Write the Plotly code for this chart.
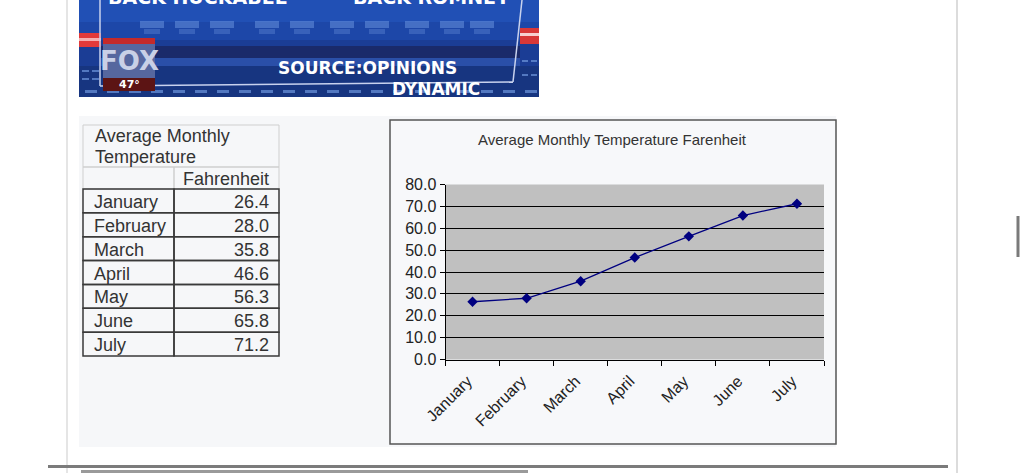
import plotly.graph_objects as go

W, H = 1024, 473

# ---------------- data ----------------
months = ["January", "February", "March", "April", "May", "June", "July"]
fahrenheit = [26.4, 28.0, 35.8, 46.6, 56.3, 65.8, 71.2]
y_ticks = [0, 10, 20, 30, 40, 50, 60, 70, 80]
chart_title = "Average Monthly Temperature Farenheit"
table_title = ["Average Monthly", "Temperature"]
table_header = "Fahrenheit"


def px(x):
    return x / W


def py(y):
    return 1 - y / H


shapes = []
annotations = []


def rect(x0, y0, x1, y1, fill=None, line=None, lw=0, layer="below"):
    shapes.append(dict(type="rect", xref="paper", yref="paper",
                       x0=px(x0), x1=px(x1), y0=py(y1), y1=py(y0),
                       fillcolor=fill if fill else "rgba(0,0,0,0)",
                       line=dict(color=line if line else "rgba(0,0,0,0)", width=lw),
                       layer=layer))


def seg(x0, y0, x1, y1, color, lw, layer="below"):
    shapes.append(dict(type="line", xref="paper", yref="paper",
                       x0=px(x0), x1=px(x1), y0=py(y0), y1=py(y1),
                       line=dict(color=color, width=lw), layer=layer))


def text(x, y, s, size, color, family="Liberation Sans", xanchor="left",
         yanchor="middle", bold=False):
    if bold:
        s = "<b>" + s + "</b>"
    annotations.append(dict(xref="paper", yref="paper", x=px(x), y=py(y),
                            text=s, showarrow=False, xanchor=xanchor,
                            yanchor=yanchor,
                            font=dict(size=size, color=color, family=family)))


# ---------------- page frame ----------------
seg(67, 0, 67, 473, "#dcdcdc", 1.5)
seg(957, 0, 957, 473, "#dcdcdc", 2)
rect(1016.5, 216, 1019.5, 257, fill="#7a7a7a")

# ---------------- TV image (drawn) ----------------
rect(79, 0, 539, 97, fill="#1b3d95")
rect(79, 0, 539, 22, fill="#2150b5")
rect(79, 22, 539, 40, fill="#1d47a8")
rect(101, 46, 520, 58, fill="#1a2a6a")
rect(101, 58, 520, 66, fill="#2a4fa8")
rect(79, 66, 539, 97, fill="#173580")
for bx in [140, 175, 210, 255, 290, 330, 365, 405, 440, 470]:
    rect(bx, 21, bx + 24, 28, fill="rgba(120,160,230,0.45)")
    rect(bx + 4, 29, bx + 20, 34, fill="rgba(120,160,230,0.30)")
rect(79, 33, 101, 47, fill="#e23a3a")
rect(79, 38, 101, 41, fill="#f5b0b0")
rect(520, 28, 539, 44, fill="#d83838")
rect(520, 33, 539, 36, fill="#f7d0d0")
for bx in range(85, 539, 22):
    rect(bx, 90, bx + 12, 93, fill="rgba(110,150,220,0.7)")
for bx in range(82, 100, 10):
    rect(bx, 70, bx + 7, 72, fill="rgba(110,150,220,0.7)")
    rect(bx, 78, bx + 7, 80, fill="rgba(110,150,220,0.7)")
for bx in range(522, 539, 9):
    rect(bx, 60, bx + 6, 62, fill="rgba(110,150,220,0.7)")
    rect(bx, 74, bx + 6, 76, fill="rgba(110,150,220,0.7)")
seg(100, 0, 100, 86, "#c8d2ee", 1.5)
seg(100, 86, 513, 82, "#c8d2ee", 1.5)
seg(522, 0, 513, 82, "#c8d2ee", 1.5)
rect(103, 38, 155, 44, fill="#c42a2a")
rect(103, 44, 155, 78, fill="#56679f")
rect(103, 78, 155, 91, fill="#5c1414")
text(129, 61, "FOX", 26, "#c9d0e6", family="DejaVu Sans", xanchor="center", bold=True)
text(129, 84.5, "47°", 11, "#ffffff", family="DejaVu Sans", xanchor="center", bold=True)
text(367, 68, "SOURCE:OPINIONS", 17, "#ffffff", family="DejaVu Sans",
     xanchor="center", bold=True)
text(436, 89, "DYNAMIC", 17, "#ffffff", family="DejaVu Sans", xanchor="center", bold=True)
text(198, 10, "BACK HUCKABEE", 19, "#ffffff", family="DejaVu Sans",
     xanchor="center", yanchor="bottom", bold=True)
text(431, 10, "BACK ROMNEY", 19, "#ffffff", family="DejaVu Sans",
     xanchor="center", yanchor="bottom", bold=True)

# ---------------- panel ----------------
rect(79, 116, 836, 447, fill="#f6f7f9")

# ---------------- table ----------------
tx0, tdiv, tx1 = 83, 174, 279
rect(tx0, 125, tx1, 167, line="#cfcfcf", lw=1)
rect(tx0, 167, tdiv, 189, line="#cfcfcf", lw=1)
rect(tdiv, 167, tx1, 189, line="#cfcfcf", lw=1)
text(93, 136, table_title[0], 18, "#333333")
text(93, 157, table_title[1], 18, "#333333")
text(271, 179, table_header, 18, "#333333", xanchor="right")
row_top = 189
row_h = (356 - 189) / len(months)
for i, (m, v) in enumerate(zip(months, fahrenheit)):
    y0 = row_top + i * row_h
    rect(tx0, y0, tdiv, y0 + row_h, line="#3a3a3a", lw=1.5)
    rect(tdiv, y0, tx1, y0 + row_h, line="#3a3a3a", lw=1.5)
    text(92, y0 + row_h / 2 + 1, m, 18, "#333333")
    text(271, y0 + row_h / 2 + 1, f"{v:.1f}", 18, "#333333", xanchor="right")

# ---------------- chart box ----------------
rect(390, 120, 836, 444, fill="#f7f8fa", line="#555555", lw=1.5)
text(612, 139, chart_title, 15, "#333333", xanchor="center")
shapes.append(dict(type="rect", xref="x domain", yref="y domain",
                   x0=0, x1=1, y0=0, y1=1, fillcolor="#c0c0c0",
                   line=dict(width=0), layer="below"))

# bottom page lines
seg(48, 466.5, 948, 466.5, "#7b7b7b", 3, layer="above")
rect(81, 470, 528, 474, fill="#9a9a9a", layer="above")

fig = go.Figure()
fig.add_trace(go.Scatter(
    x=months, y=fahrenheit, mode="lines+markers",
    line=dict(color="#000080", width=1.3),
    marker=dict(symbol="diamond", size=8, color="#000080"),
    hoverinfo="x+y", showlegend=False))

fig.update_layout(
    width=W, height=H,
    margin=dict(l=0, r=0, t=0, b=0, pad=0, autoexpand=False),
    paper_bgcolor="#ffffff",
    plot_bgcolor="rgba(0,0,0,0)",
    shapes=shapes,
    annotations=annotations,
    showlegend=False,
    xaxis=dict(
        domain=[px(445.5), px(824)],
        type="category", range=[-0.5, len(months) - 0.5],
        tickson="boundaries", ticks="outside", ticklen=5, tickcolor="#000000",
        showline=True, linecolor="#000000", linewidth=1,
        showgrid=False, zeroline=False, tickangle=-45, automargin=False,
        ticklabelstandoff=5, ticklabelshift=-5,
        tickfont=dict(family="Liberation Sans", size=16, color="#222222"),
        fixedrange=True,
    ),
    yaxis=dict(
        domain=[py(359.5), py(184.5)],
        range=[0, 80], tickvals=y_ticks, tickformat=".1f",
        ticks="outside", ticklen=5, tickcolor="#000000",
        showline=True, linecolor="#000000", linewidth=1,
        showgrid=True, gridcolor="#000000", gridwidth=1,
        zeroline=False, automargin=False,
        tickfont=dict(family="Liberation Sans", size=16, color="#222222"),
        fixedrange=True,
    ),
)

fig.write_html(
    "out.html",
    config={"displayModeBar": False},
    post_script="document.body.style.margin='0';document.body.style.padding='0';"
                "document.documentElement.style.overflow='hidden';",
)
